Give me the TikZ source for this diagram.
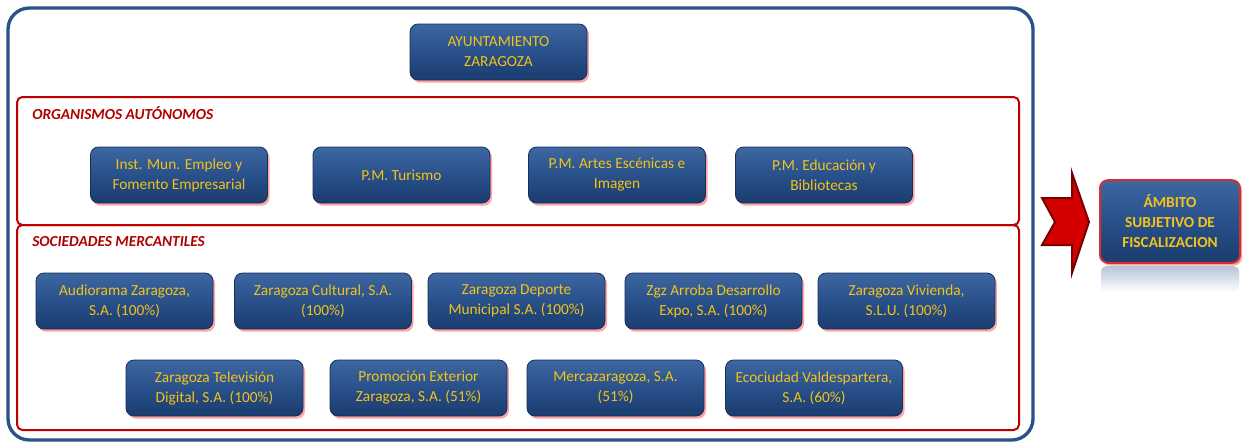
\documentclass[tikz,border=0pt]{standalone}
\usepackage{fontspec}
\setmainfont{Carlito}
\usetikzlibrary{shadows}
\definecolor{outerblue}{HTML}{2B5288}
\definecolor{redline}{HTML}{C00000}
\definecolor{hdrred}{HTML}{B00000}
\definecolor{boxtop}{HTML}{3E67A2}
\definecolor{boxmid}{HTML}{28508A}
\definecolor{boxbot}{HTML}{1B3C6E}
\definecolor{boxline}{HTML}{16305A}
\definecolor{gold}{HTML}{F3C318}
\definecolor{arrowred}{HTML}{D40000}
\definecolor{arrowdark}{HTML}{7A0000}
\definecolor{reflect}{HTML}{B7C4D8}
\begin{document}
\begin{tikzpicture}[x=0.75pt,y=-0.75pt,
  unitbox/.style={draw=boxline, line width=0.6pt, rounded corners=6pt,
    top color=boxtop, bottom color=boxbot, middle color=boxmid,
    minimum width=132.75pt, minimum height=42pt, text=gold,
    font=\fontsize{11.5}{15}\selectfont, align=center,
    drop shadow={shadow xshift=1.5pt, shadow yshift=-2pt, fill=red!70!white, opacity=0.5}},
  finalbox/.style={unitbox, draw=redline!80, line width=1.5pt, minimum width=105pt, minimum height=62pt,
    font=\bfseries\fontsize{11.5}{15}\selectfont},
  groupframe/.style={draw=redline, line width=1.5pt, rounded corners=4pt},
  outerframe/.style={draw=outerblue, line width=2.5pt, rounded corners=16pt},
  grouptitle/.style={anchor=base west, text=hdrred, font=\bfseries\itshape\fontsize{11.5}{12}\selectfont, inner sep=0pt},
  bigarrow/.style={draw=arrowdark, fill=arrowred, line width=1.5pt, line join=miter}
]
\useasboundingbox (0,0) rectangle (1244,443);
\fill[white] (0,0) rectangle (1244,443);

\draw[outerframe] (8,8) rectangle (1033,440);
\draw[groupframe] (17,97) rectangle (1019,225);
\draw[groupframe] (17,225) rectangle (1019,430);

\node[unitbox] (ayto) at (498.5,52) {AYUNTAMIENTO\\ZARAGOZA};

\node[grouptitle] (oa) at (32,119) {ORGANISMOS AUTÓNOMOS};
\node[unitbox] (imefe) at (179,175) {Inst. Mun. Empleo y\\Fomento Empresarial};
\node[unitbox] (tur) at (401.5,175) {P.M. Turismo};
\node[unitbox] (artes) at (617,175) {P.M. Artes Escénicas e\\Imagen};
\node[unitbox] (edu) at (824,175) {P.M. Educación y\\Bibliotecas};

\node[grouptitle] (sm) at (32,246) {SOCIEDADES MERCANTILES};
\node[unitbox] (audio) at (124.5,301) {Audiorama Zaragoza,\\S.A. (100\%)};
\node[unitbox] (cult) at (323,301) {Zaragoza Cultural, S.A.\\(100\%)};
\node[unitbox] (dep) at (516.5,301) {Zaragoza Deporte\\Municipal S.A. (100\%)};
\node[unitbox] (zgz) at (713.5,301) {Zgz Arroba Desarrollo\\Expo, S.A. (100\%)};
\node[unitbox] (viv) at (906.5,301) {Zaragoza Vivienda,\\S.L.U. (100\%)};

\node[unitbox] (tv) at (214.5,388) {Zaragoza Televisión\\Digital, S.A. (100\%)};
\node[unitbox] (prom) at (418.5,388) {Promoción Exterior\\Zaragoza, S.A. (51\%)};
\node[unitbox] (merca) at (615.5,388) {Mercazaragoza, S.A.\\(51\%)};
\node[unitbox] (eco) at (814,388) {Ecociudad Valdespartera,\\S.A. (60\%)};

\draw[bigarrow] (1072,173) -- (1089,222) -- (1072,273) -- (1072,245) -- (1042,245)
  -- (1055,222) -- (1042,198) -- (1072,198) -- cycle;

\shade[top color=reflect, bottom color=white, rounded corners=4pt] (1101,266) rectangle (1239,292);
\node[finalbox] (ambito) at (1170,221.5) {ÁMBITO\\SUBJETIVO DE\\FISCALIZACION};
\end{tikzpicture}
\end{document}
